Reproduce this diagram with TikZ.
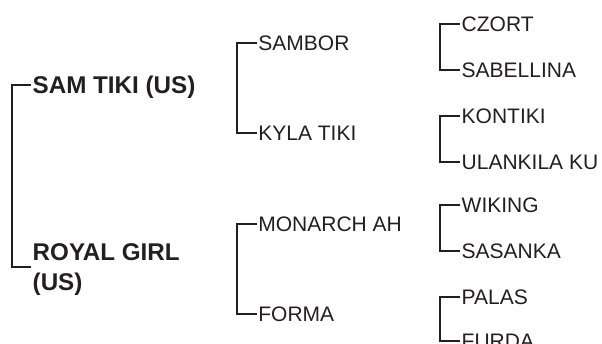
\documentclass[tikz,border=0pt]{standalone}
\usepackage{fontspec}
\setmainfont{Liberation Sans}
\definecolor{ink}{HTML}{231F20}
\begin{document}
\begin{tikzpicture}[x=1pt,y=1pt,
  lbl/.style={anchor=west, inner xsep=1.5pt, inner ysep=0pt, text height=15pt, text depth=0pt, text=ink, font=\fontsize{21}{25}\selectfont},
  blbl/.style={anchor=west, inner xsep=1.5pt, inner ysep=0pt, text=ink, font=\fontsize{24.2}{30}\selectfont\bfseries},
  br/.style={draw=ink, line width=2pt}]
\useasboundingbox (0,0) rectangle (602,344);
% level 1
\node[blbl, text height=17.3pt, text depth=0pt] (sam) at (31,259) {SAM TIKI (US)};
\node[blbl, align=left, text depth=0pt] (royal) at (31,77.3) {ROYAL GIRL\\(US)};
% level 2
\node[lbl] (sambor) at (256.7,301.3) {SAMBOR};
\node[lbl] (kyla) at (256.7,210.7) {KYLA TIKI};
\node[lbl] (monarch) at (256.7,120) {MONARCH AH};
\node[lbl] (forma) at (256.7,29.7) {FORMA};
% level 3
\node[lbl] (czort) at (460,320) {CZORT};
\node[lbl] (sabellina) at (460,274) {SABELLINA};
\node[lbl] (kontiki) at (460,228) {KONTIKI};
\node[lbl] (ulankila) at (460,182) {ULANKILA KU};
\node[lbl] (wiking) at (460,139) {WIKING};
\node[lbl] (sasanka) at (460,93) {SASANKA};
\node[lbl] (palas) at (460,47) {PALAS};
\node[lbl] (furda) at (460,3) {FURDA};
% brackets
\draw[br] (sam.west) -- ++(-19.3,0) |- (royal.west);
\draw[br] (sambor.west) -- ++(-20,0) |- (kyla.west);
\draw[br] (monarch.west) -- ++(-20,0) |- (forma.west);
\draw[br] (czort.west) -- ++(-20.5,0) |- (sabellina.west);
\draw[br] (kontiki.west) -- ++(-20.5,0) |- (ulankila.west);
\draw[br] (wiking.west) -- ++(-20.5,0) |- (sasanka.west);
\draw[br] (palas.west) -- ++(-20.5,0) |- (furda.west);
\end{tikzpicture}
\end{document}
